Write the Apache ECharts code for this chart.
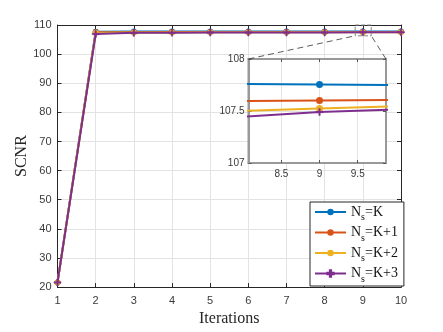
<!DOCTYPE html>
<html>
<head>
<meta charset="utf-8">
<script src="https://cdn.jsdelivr.net/npm/echarts@6/dist/echarts.min.js"></script>
<style>
  html, body { margin: 0; padding: 0; background: #fff; }
  #chart { width: 443px; height: 332px; }
</style>
</head>
<body>
<div id="chart"></div>
<script>
// iterations on the x axis
const iterations = [1, 2, 3, 4, 5, 6, 7, 8, 9, 10];
const scnrK  = [21.6, 107.7, 107.74, 107.75, 107.76, 107.76, 107.76, 107.76, 107.755, 107.75];
const scnrK1 = [21.6, 107.5, 107.55, 107.57, 107.58, 107.59, 107.59, 107.595, 107.6, 107.607];
const scnrK2 = [21.6, 107.3, 107.42, 107.46, 107.48, 107.49, 107.495, 107.5, 107.525, 107.545];
const scnrK3 = [21.6, 106.9, 107.3, 107.37, 107.4, 107.42, 107.43, 107.445, 107.49, 107.515];
const seriesNames = ['K', 'K+1', 'K+2', 'K+3'];
const colors = ['#0072BD', '#D95319', '#EDB120', '#7E2F8E'];
const insetTicks = [8.5, 9, 9.5];

const plusPath = 'path://M4,0 H6 V4 H10 V6 H6 V10 H4 V6 H0 V4 H4 Z';
const allData = [scnrK, scnrK1, scnrK2, scnrK3];

const chart = echarts.init(document.getElementById('chart'));

const tickFont = { fontFamily: 'Liberation Sans', fontSize: 11, color: '#3a3a3a' };
const gridLine = { show: true, lineStyle: { color: '#e3e3e3', width: 1 } };
const axisLine = { show: true, lineStyle: { color: '#262626', width: 1 } };

function mainSeries(i) {
  return {
    name: 'Ns=' + seriesNames[i],
    type: 'line',
    xAxisIndex: 0, yAxisIndex: 0,
    data: iterations.map((x, j) => [x, allData[i][j]]),
    color: colors[i],
    lineStyle: { width: 2 },
    symbol: i === 3 ? plusPath : 'circle',
    symbolSize: i === 3 ? 7 : 6,
    showSymbol: true,
    itemStyle: { color: colors[i], borderColor: colors[i], borderWidth: i === 3 ? 0.5 : 0 },
    animation: false,
    z: 3 + i
  };
}
function insetSeries(i) {
  return {
    name: 'Ns=' + seriesNames[i],
    type: 'line',
    xAxisIndex: 2, yAxisIndex: 2,
    data: iterations.map((x, j) => [x, allData[i][j]]).slice(7),
    color: colors[i],
    lineStyle: { width: 2 },
    symbol: i === 3 ? plusPath : 'circle',
    symbolSize: 7,
    clip: true,
    itemStyle: { color: colors[i], borderColor: colors[i], borderWidth: i === 3 ? 0.5 : 0 },
    animation: false,
    z: 20 + i
  };
}

const option = {
  backgroundColor: '#fff',
  animation: false,
  grid: [
    { left: 57.5, top: 25, width: 343.5, height: 269, show: false },
    { left: 248.5, top: 59, width: 137.5, height: 104, show: true,
      backgroundColor: '#fff', borderColor: '#999', borderWidth: 2, z: 10 }
  ],
  xAxis: [
    { type: 'value', gridIndex: 0, min: 1, max: 10, interval: 1,
      name: 'Iterations', nameLocation: 'middle', nameGap: 22,
      nameTextStyle: { fontFamily: 'Liberation Serif', fontSize: 16, color: '#262626' },
      axisLine: axisLine, axisTick: { inside: true, length: 4, lineStyle: { color: '#262626' } },
      axisLabel: Object.assign({ margin: 8 }, tickFont), splitLine: gridLine },
    { type: 'value', gridIndex: 0, position: 'top', min: 1, max: 10, interval: 1,
      axisLine: axisLine, axisTick: { inside: true, length: 4, lineStyle: { color: '#262626' } },
      axisLabel: { show: false }, splitLine: { show: false } },
    { type: 'value', gridIndex: 1, min: 8.07, max: 9.87, z: 11,
      axisLine: { show: true, lineStyle: { color: '#999', width: 2 } },
      axisTick: { inside: true, length: 3, customValues: insetTicks, lineStyle: { color: '#555' } },
      axisLabel: Object.assign({ customValues: insetTicks, margin: 6 }, tickFont, { fontSize: 10 }),
      splitLine: gridLine },
    { type: 'value', gridIndex: 1, position: 'top', min: 8.07, max: 9.87, z: 11,
      axisLine: { show: true, lineStyle: { color: '#999', width: 2 } },
      axisTick: { inside: true, length: 3, customValues: insetTicks, lineStyle: { color: '#555' } },
      axisLabel: { show: false }, splitLine: { show: false } }
  ],
  yAxis: [
    { type: 'value', gridIndex: 0, min: 20, max: 110, interval: 10,
      name: 'SCNR', nameLocation: 'middle', nameGap: 28, nameMoveOverlap: false,
      nameTextStyle: { fontFamily: 'Liberation Serif', fontSize: 16, color: '#262626' },
      axisLine: axisLine, axisTick: { inside: true, length: 4, lineStyle: { color: '#262626' } },
      axisLabel: Object.assign({ margin: 6 }, tickFont), splitLine: gridLine },
    { type: 'value', gridIndex: 0, position: 'right', min: 20, max: 110, interval: 10,
      axisLine: axisLine, axisTick: { inside: true, length: 4, lineStyle: { color: '#262626' } },
      axisLabel: { show: false }, splitLine: { show: false } },
    { type: 'value', gridIndex: 1, min: 107, max: 108, interval: 0.5, z: 11,
      axisLine: { show: true, lineStyle: { color: '#999', width: 2 } },
      axisTick: { inside: true, length: 3, lineStyle: { color: '#555' } },
      axisLabel: Object.assign({ margin: 4 }, tickFont, { fontSize: 10 }),
      splitLine: gridLine },
    { type: 'value', gridIndex: 1, position: 'right', min: 107, max: 108, interval: 0.5, z: 11,
      axisLine: { show: true, lineStyle: { color: '#999', width: 2 } },
      axisTick: { inside: true, length: 3, lineStyle: { color: '#555' } },
      axisLabel: { show: false }, splitLine: { show: false } }
  ],
  legend: {
    orient: 'vertical',
    left: 310, top: 202,
    width: 90,
    itemWidth: 31, itemHeight: 8, itemGap: 3,
    padding: [3, 6, 2, 4],
    borderColor: '#262626', borderWidth: 1, backgroundColor: '#fff',
    z: 30,
    data: seriesNames.map(n => 'Ns=' + n),
    formatter: name => '{n|N}{s|s}{t|' + name.slice(2) + '}',
    textStyle: {
      color: '#111',
      rich: {
        n: { fontFamily: 'Liberation Serif', fontSize: 14 },
        s: { fontFamily: 'Liberation Serif', fontSize: 10, padding: [11, 0, 0, 0] },
        t: { fontFamily: 'Liberation Serif', fontSize: 14 }
      }
    }
  },
  series: [0, 1, 2, 3].map(mainSeries).concat([0, 1, 2, 3].map(insetSeries))
};

chart.setOption(option);

// magnifier box and dashed connectors to the inset
const boxTL = chart.convertToPixel({ gridIndex: 0 }, [8.8, 110]);
const boxBR = chart.convertToPixel({ gridIndex: 0 }, [9.22, 106.3]);
const inTL = chart.convertToPixel({ gridIndex: 1 }, [8.07, 108]);
const inTR = chart.convertToPixel({ gridIndex: 1 }, [9.87, 108]);
const dash = { stroke: '#333', lineWidth: 0.8, lineDash: [6, 4], fill: null };
chart.setOption({
  graphic: [
    { type: 'rect', z: 40, shape: { x: boxTL[0], y: boxTL[1], width: boxBR[0] - boxTL[0], height: boxBR[1] - boxTL[1] },
      style: { stroke: '#888', lineWidth: 1, lineDash: [4, 2], fill: null } },
    { type: 'line', z: 40, shape: { x1: inTL[0], y1: inTL[1], x2: boxTL[0], y2: boxBR[1] }, style: dash },
    { type: 'line', z: 40, shape: { x1: inTR[0], y1: inTR[1], x2: boxBR[0], y2: boxBR[1] }, style: dash }
  ]
});
</script>
</body>
</html>
